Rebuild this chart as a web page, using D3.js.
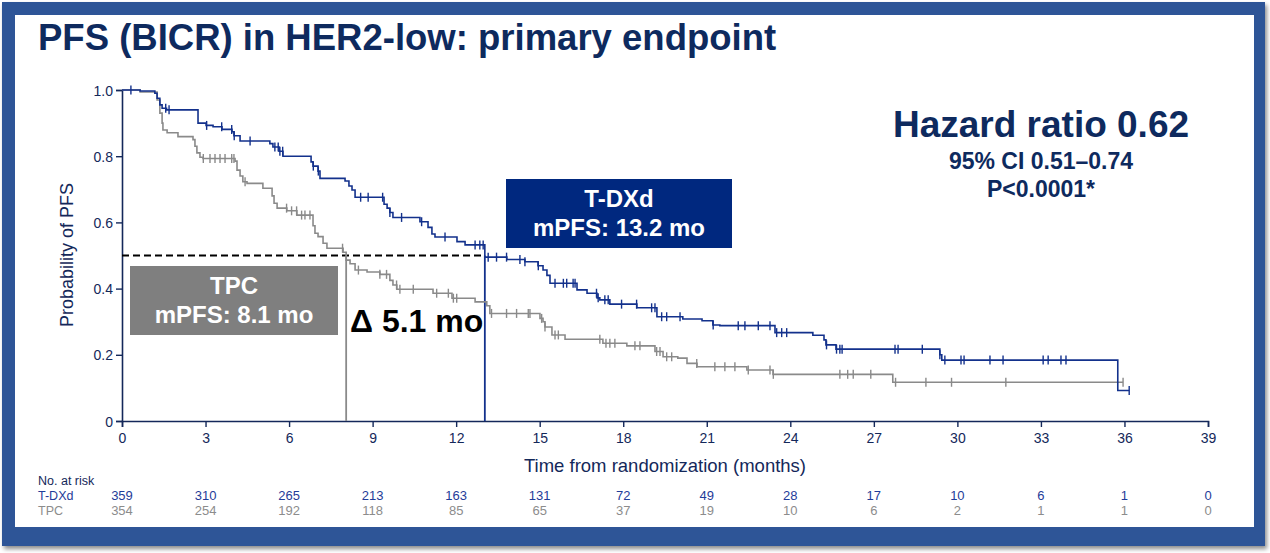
<!DOCTYPE html>
<html>
<head>
<meta charset="utf-8">
<script src="https://cdn.jsdelivr.net/npm/d3@7/dist/d3.min.js"></script>
<style>
  html, body { margin: 0; padding: 0; background: #ffffff; }
  svg { display: block; font-family: "Liberation Sans", Arial, sans-serif; }
</style>
</head>
<body>
<svg id="chart" width="1270" height="553"></svg>
<script>
// ---------------- DATA ----------------
const title = "PFS (BICR) in HER2-low: primary endpoint";
const xTicks = [0, 3, 6, 9, 12, 15, 18, 21, 24, 27, 30, 33, 36, 39];
const yTicks = [0, 0.2, 0.4, 0.6, 0.8, 1.0];
const yTickLabels = ["0", "0.2", "0.4", "0.6", "0.8", "1.0"];

// T-DXd Kaplan-Meier steps: time (months) of drop, survival after the drop
const tdxdTime = [0, 0.65, 1.18, 1.26, 1.36, 1.44, 1.6, 2.73, 3.02, 3.27, 3.59, 3.95, 4.02, 4.24, 5.31, 5.42, 5.64, 5.78,
  6.79, 6.86, 7.04, 7.11, 8.01, 8.15, 8.26, 8.37, 9.41, 9.52, 9.62, 9.73, 10.7, 10.99, 11.13, 11.24, 12.03, 12.32, 13.03,
  13.82, 14.47, 14.94, 15.12, 15.26, 15.37, 16.34, 16.7, 17.06, 17.16, 17.52, 18.49, 19.21, 20.14, 20.83, 21.22, 21.47,
  23.45, 24.81, 25.21, 25.28, 25.64, 29.37, 29.44, 35.76];
const tdxdSurv = [1.0, 0.997, 0.99, 0.975, 0.955, 0.945, 0.94, 0.90, 0.893, 0.889, 0.881, 0.874, 0.862, 0.846, 0.838, 0.828, 0.815, 0.80,
  0.783, 0.77, 0.755, 0.733, 0.725, 0.71, 0.698, 0.676, 0.655, 0.643, 0.63, 0.615, 0.602, 0.585, 0.565, 0.556, 0.542, 0.532, 0.495,
  0.488, 0.481, 0.469, 0.456, 0.44, 0.416, 0.396, 0.386, 0.372, 0.366, 0.353, 0.342, 0.315, 0.308, 0.303, 0.29, 0.288,
  0.267, 0.259, 0.245, 0.23, 0.217, 0.20, 0.184, 0.092];
const tdxdEnd = 36.17;
const tdxdCensor = [0.32, 1.57, 1.69, 3.04, 3.58, 3.94, 4.03, 4.6, 5.49, 5.61, 5.67, 5.77, 6.87, 7.05, 8.57, 8.84, 9.36,
  9.62, 10.04, 10.76, 11.6, 12.68, 12.85, 12.97, 13.15, 13.45, 13.81, 14.29, 14.47, 14.95, 15.55, 15.85, 15.97, 16.2, 16.27,
  17.04, 17.1, 17.34, 17.46, 17.94, 18.48, 19.02, 19.14, 19.38, 19.56, 20.04, 21.23, 22.13, 22.37, 22.85, 23.27,
  23.51, 23.69, 23.87, 25.3, 25.66, 25.78, 25.86, 27.76, 27.87, 28.74, 29.37, 29.55, 30.13, 30.24, 31.17, 31.64,
  33.08, 33.26, 33.72, 33.9, 36.17];

// TPC Kaplan-Meier steps
const tpcTime = [0, 0.65, 1.26, 1.36, 1.44, 1.47, 1.62, 2.01, 2.55, 2.62, 2.69, 2.8, 2.91, 4.06, 4.13, 4.24, 4.34, 4.49,
  5.06, 5.39, 5.46, 5.57, 5.92, 6.28, 6.86, 6.93, 7.04, 7.22, 7.36, 7.94, 8.05, 8.19, 8.37, 8.8, 9.26, 9.62, 9.73, 9.87,
  11.17, 11.85, 12.68, 13.1, 13.21, 15.01, 15.12, 15.19, 15.44, 15.91, 17.27, 18.13, 19.14, 19.43, 19.96, 20.29, 20.65,
  22.44, 23.38, 27.68];
const tpcSurv = [1.0, 0.994, 0.97, 0.93, 0.90, 0.879, 0.871, 0.859, 0.85, 0.83, 0.81, 0.797, 0.793, 0.785, 0.758, 0.74, 0.723, 0.718,
  0.703, 0.68, 0.658, 0.643, 0.635, 0.622, 0.59, 0.567, 0.557, 0.537, 0.522, 0.51, 0.486, 0.475, 0.456, 0.45, 0.443, 0.425, 0.411, 0.398,
  0.386, 0.371, 0.36, 0.348, 0.325, 0.31, 0.30, 0.284, 0.26, 0.247, 0.235, 0.227, 0.21, 0.194, 0.19, 0.174, 0.164,
  0.154, 0.141, 0.117];
const tpcEnd = 35.95;
const tpcCensor = [2.92, 3.16, 3.34, 3.52, 3.7, 3.94, 4.02, 4.42, 5.91, 6.09, 6.27, 6.45, 6.57, 6.75, 7.92, 8.49, 9.26, 9.5,
  9.86, 9.98, 10.46, 11.3, 11.72, 11.9, 12.02, 13.27, 13.81, 14.17, 14.59, 14.65, 15.07, 15.19, 15.55, 15.67, 17.16, 17.38,
  17.52, 17.7, 18.42, 18.6, 19.2, 19.32, 19.56, 19.74, 20.64, 21.29, 21.65, 22.01, 22.49, 23.27, 23.39, 25.78, 26.06,
  26.26, 26.89, 27.78, 28.87, 29.79, 31.74, 35.95];

const riskTimes = [0, 3, 6, 9, 12, 15, 18, 21, 24, 27, 30, 33, 36, 39];
const riskTdxd = [359, 310, 265, 213, 163, 131, 72, 49, 28, 17, 10, 6, 1, 0];
const riskTpc = [354, 254, 192, 118, 85, 65, 37, 19, 10, 6, 2, 1, 1, 0];

const hrLines = ["Hazard ratio 0.62", "95% CI 0.51\u20130.74", "P<0.0001*"];
const tdxdBoxLines = ["T-DXd", "mPFS: 13.2 mo"];
const tpcBoxLines = ["TPC", "mPFS: 8.1 mo"];
const deltaLabel = "\u0394 5.1 mo";

// ---------------- STYLE ----------------
const navy = "#0E2A5E";
const axisCol = "#14285A";
const blue = "#13318C";
const boxBlue = "#00287F";
const gray = "#8A8A8A";
const boxGray = "#7F7F7F";

const svg = d3.select("#chart");

// frame with shadow
const defs = svg.append("defs");
const f = defs.append("filter").attr("id", "sh").attr("x", "-5%").attr("y", "-5%").attr("width", "110%").attr("height", "110%");
f.append("feGaussianBlur").attr("in", "SourceAlpha").attr("stdDeviation", 2);
f.append("feOffset").attr("dx", 2).attr("dy", 3).attr("result", "ob");
f.append("feComponentTransfer").append("feFuncA").attr("type", "linear").attr("slope", 0.45);
const m = f.append("feMerge");
m.append("feMergeNode");
m.append("feMergeNode").attr("in", "SourceGraphic");

svg.append("rect").attr("x", 2).attr("y", 2).attr("width", 1263).attr("height", 544)
  .attr("fill", "#2F5597").attr("filter", "url(#sh)");
svg.append("rect").attr("x", 15).attr("y", 15).attr("width", 1239).attr("height", 512).attr("fill", "#ffffff");

// title
svg.append("text").attr("x", 38).attr("y", 50).attr("fill", navy)
  .attr("font-size", 36.5).attr("font-weight", "bold").text(title);

// scales
const x = d3.scaleLinear().domain([0, 39]).range([122, 1208]);
const y = d3.scaleLinear().domain([0, 1]).range([421, 90]);

// axes
const gx = svg.append("g").attr("transform", `translate(0,${y(0)})`)
  .call(d3.axisBottom(x).tickValues(xTicks).tickSize(6).tickPadding(6).tickFormat(d3.format("d")));
const gy = svg.append("g").attr("transform", `translate(${x(0)},0)`)
  .call(d3.axisLeft(y).tickValues(yTicks).tickSize(6).tickPadding(3).tickFormat((d, i) => yTickLabels[i]));
[gx, gy].forEach(g => {
  g.select(".domain").attr("stroke", axisCol).attr("stroke-width", 1.6);
  g.selectAll(".tick line").attr("stroke", axisCol).attr("stroke-width", 1.4);
  g.selectAll(".tick text").attr("fill", axisCol).attr("font-size", 14)
    .attr("font-family", "'Liberation Sans', Arial, sans-serif");
});
gy.selectAll(".tick text").attr("dy", "0.36em");

svg.append("text").attr("x", 665).attr("y", 472).attr("text-anchor", "middle")
  .attr("fill", axisCol).attr("font-size", 18.5).text("Time from randomization (months)");
svg.append("text").attr("transform", "translate(73,255) rotate(-90)").attr("text-anchor", "middle")
  .attr("fill", axisCol).attr("font-size", 18).text("Probability of PFS");

// KM helpers
function kmPoints(times, surv, end) {
  const pts = times.map((t, i) => [t, surv[i]]);
  pts.push([end, surv[surv.length - 1]]);
  return pts;
}
function survAt(times, surv, t) {
  let s = surv[0];
  for (let i = 0; i < times.length; i++) { if (times[i] <= t) s = surv[i]; }
  return s;
}
function medianOf(times, surv) {
  for (let i = 0; i < times.length; i++) if (surv[i] <= 0.5) return times[i];
  return null;
}
const line = d3.line().x(d => x(d[0])).y(d => y(d[1])).curve(d3.curveStepAfter);

const tdxdMed = medianOf(tdxdTime, tdxdSurv);
const tpcMed = medianOf(tpcTime, tpcSurv);

// median reference lines
svg.append("line").attr("x1", x(0)).attr("x2", x(tdxdMed)).attr("y1", y(0.5)).attr("y2", y(0.5))
  .attr("stroke", "#000").attr("stroke-width", 2).attr("stroke-dasharray", "7,4");
svg.append("line").attr("x1", x(tpcMed)).attr("x2", x(tpcMed)).attr("y1", y(0.5)).attr("y2", y(0))
  .attr("stroke", gray).attr("stroke-width", 1.8);
svg.append("line").attr("x1", x(tdxdMed)).attr("x2", x(tdxdMed)).attr("y1", y(0.5)).attr("y2", y(0))
  .attr("stroke", blue).attr("stroke-width", 1.8);

// curves
function drawKM(times, surv, end, censor, color) {
  svg.append("path").datum(kmPoints(times, surv, end)).attr("d", line)
    .attr("fill", "none").attr("stroke", color).attr("stroke-width", 1.6);
  svg.append("g").selectAll("line").data(censor).join("line")
    .attr("x1", d => x(d)).attr("x2", d => x(d))
    .attr("y1", d => y(survAt(times, surv, d)) - 4.5).attr("y2", d => y(survAt(times, surv, d)) + 4.5)
    .attr("stroke", color).attr("stroke-width", 1.4);
}
drawKM(tpcTime, tpcSurv, tpcEnd, tpcCensor, gray);
drawKM(tdxdTime, tdxdSurv, tdxdEnd, tdxdCensor, blue);

// label boxes
function box(x0, y0, w, h, fill, lines) {
  svg.append("rect").attr("x", x0).attr("y", y0).attr("width", w).attr("height", h).attr("fill", fill);
  svg.append("text").attr("x", x0 + w / 2).attr("y", y0 + 28).attr("text-anchor", "middle")
    .attr("fill", "#fff").attr("font-size", 24).attr("font-weight", "bold").text(lines[0]);
  svg.append("text").attr("x", x0 + w / 2).attr("y", y0 + 57).attr("text-anchor", "middle")
    .attr("fill", "#fff").attr("font-size", 24).attr("font-weight", "bold").text(lines[1]);
}
box(506, 179, 226, 69, boxBlue, tdxdBoxLines);
box(130, 266, 208, 69, boxGray, tpcBoxLines);

svg.append("text").attr("x", 350).attr("y", 332).attr("fill", "#000")
  .attr("font-size", 32).attr("font-weight", "bold").text(deltaLabel);

// hazard ratio
svg.append("text").attr("x", 1041).attr("y", 137).attr("text-anchor", "middle").attr("fill", navy)
  .attr("font-size", 37).attr("font-weight", "bold").text(hrLines[0]);
svg.append("text").attr("x", 1041).attr("y", 169).attr("text-anchor", "middle").attr("fill", navy)
  .attr("font-size", 23).attr("font-weight", "bold").text(hrLines[1]);
svg.append("text").attr("x", 1041).attr("y", 197).attr("text-anchor", "middle").attr("fill", navy)
  .attr("font-size", 23).attr("font-weight", "bold").text(hrLines[2]);

// numbers at risk
svg.append("text").attr("x", 38).attr("y", 485).attr("fill", axisCol).attr("font-size", 12.5).text("No. at risk");
svg.append("text").attr("x", 38).attr("y", 500).attr("fill", "#1F3C99").attr("font-size", 12.5).text("T-DXd");
svg.append("text").attr("x", 38).attr("y", 515).attr("fill", "#8C8C8C").attr("font-size", 12.5).text("TPC");
svg.append("g").selectAll("text").data(riskTdxd).join("text")
  .attr("x", (d, i) => x(riskTimes[i])).attr("y", 500).attr("text-anchor", "middle")
  .attr("fill", "#1F3C99").attr("font-size", 13).text(d => d);
svg.append("g").selectAll("text").data(riskTpc).join("text")
  .attr("x", (d, i) => x(riskTimes[i])).attr("y", 515).attr("text-anchor", "middle")
  .attr("fill", "#8C8C8C").attr("font-size", 13).text(d => d);
</script>
</body>
</html>
